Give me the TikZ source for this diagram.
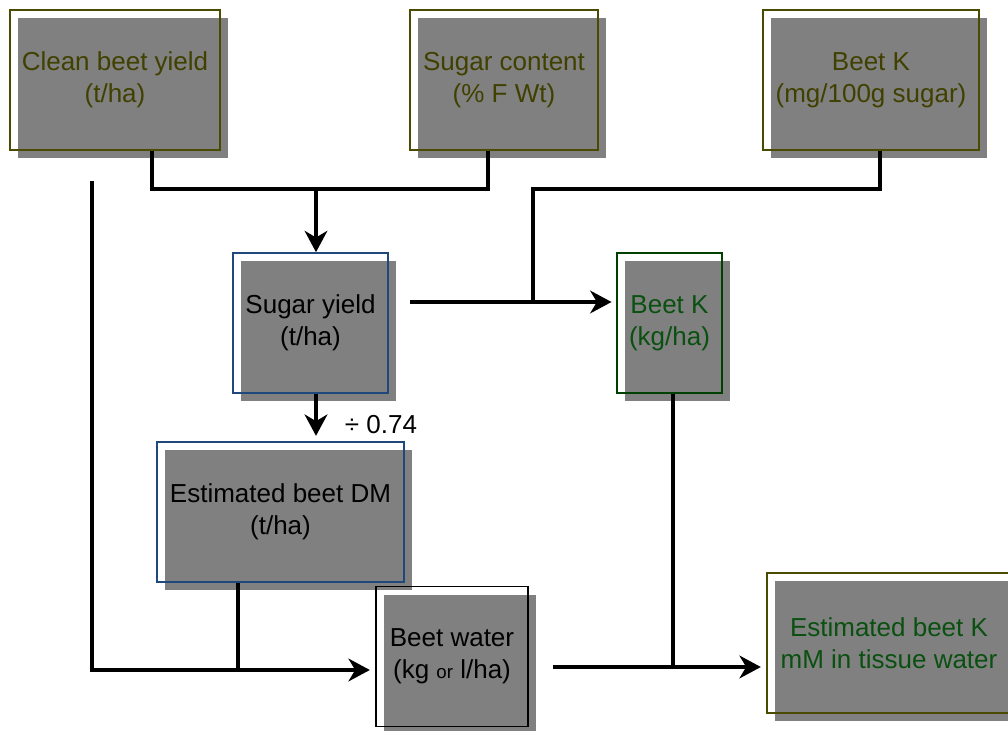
\documentclass[tikz,border=0pt]{standalone}
\usepackage{fontspec}
\setmainfont{Liberation Sans}
\usepackage{tikz}
\usepackage{xcolor}
\usetikzlibrary{arrows.meta}
\usetikzlibrary{shadows}

\definecolor{boxgray}{RGB}{128,128,128}
\definecolor{oliveline}{RGB}{74,74,0}
\definecolor{olivetext}{RGB}{64,64,0}
\definecolor{blueline}{RGB}{31,73,125}
\definecolor{greenline}{RGB}{0,64,0}
\definecolor{greentext}{RGB}{10,80,16}

\begin{document}
\begin{tikzpicture}[
  x=0.75pt, y=-0.75pt, % pixel grid
  box/.style={
    draw,
    line width=1.2pt,
    general shadow={fill=boxgray, shadow xshift=6pt, shadow yshift=-6pt},
    align=center,
    font=\fontsize{19.5}{24}\selectfont,
    minimum height=105pt,
    inner sep=0pt
  },
  line/.style={line width=3pt},
  arrow/.style={-{Stealth[length=16pt,width=17pt,inset=5pt]}, line width=3pt}
]
\useasboundingbox (0,0) rectangle (1008,731);
\clip (0,0) rectangle (1008,731);

\node[box, draw=oliveline, text=olivetext, minimum width=157.5pt] (cby) at (115,80) {Clean beet yield\\(t/ha)};
\node[box, draw=oliveline, text=olivetext, minimum width=141pt] (sc) at (504,80) {Sugar content\\(\% F Wt)};
\node[box, draw=oliveline, text=olivetext, minimum width=162pt] (bkc) at (871,80) {Beet K\\(mg/100g sugar)};
\node[box, draw=blueline, text=black, minimum width=116.25pt] (sy) at (310.5,323) {Sugar yield\\(t/ha)};
\node[box, draw=greenline, text=greentext, minimum width=78.75pt] (bk) at (669.5,323) {Beet K\\(kg/ha)};
\node[box, draw=blueline, text=black, minimum width=185.25pt] (dm) at (280.5,512) {Estimated beet DM\\(t/ha)};
\node[box, draw=black, text=black, minimum width=114pt] (bw) at (452,656.5) {Beet water\\(kg {\fontsize{14}{16}\selectfont or} l/ha)};
\node[box, draw=oliveline, text=greentext, minimum width=183pt] (ek) at (889,643) {Estimated beet K\\mM in tissue water};

\node[font=\fontsize{19.5}{24}\selectfont, inner sep=0pt] (div) at (381,425) {÷ 0.74};

\coordinate (top-l) at (152,189);
\coordinate (top-r) at (488,189);
\coordinate (top-m) at (316,189);
\coordinate (k-r) at (880,189);
\coordinate (k-l) at (533,189);
\coordinate (k-j) at (533,302);
\coordinate (w-top) at (92,181);
\coordinate (w-bot) at (92,670);
\coordinate (dm-j) at (238,670);
\coordinate (k-bot) at (673,667);

\draw[line] (cby.south -| top-l) -- (top-l) -- (top-r) -- (sc.south -| top-r);
\draw[arrow] (top-m) -- (sy.north -| top-m);
\draw[line] (bkc.south -| k-r) -- (k-r) -- (k-l) -- (k-j);
\draw[arrow, shorten <=16pt, shorten >=3.5pt] (sy.east |- k-j) -- (bk.west |- k-j);
\draw[arrow, shorten >=4pt] (sy.south -| top-m) -- (dm.north -| top-m);
\draw[arrow, shorten >=4pt] (w-top) -- (w-bot) -- (bw.west |- w-bot);
\draw[line] (dm.south -| dm-j) -- (dm-j);
\draw[line] (bk.south -| k-bot) -- (k-bot);
\draw[arrow, shorten <=18pt, shorten >=4pt] (bw.east |- k-bot) -- (ek.west |- k-bot);
\end{tikzpicture}
\end{document}
